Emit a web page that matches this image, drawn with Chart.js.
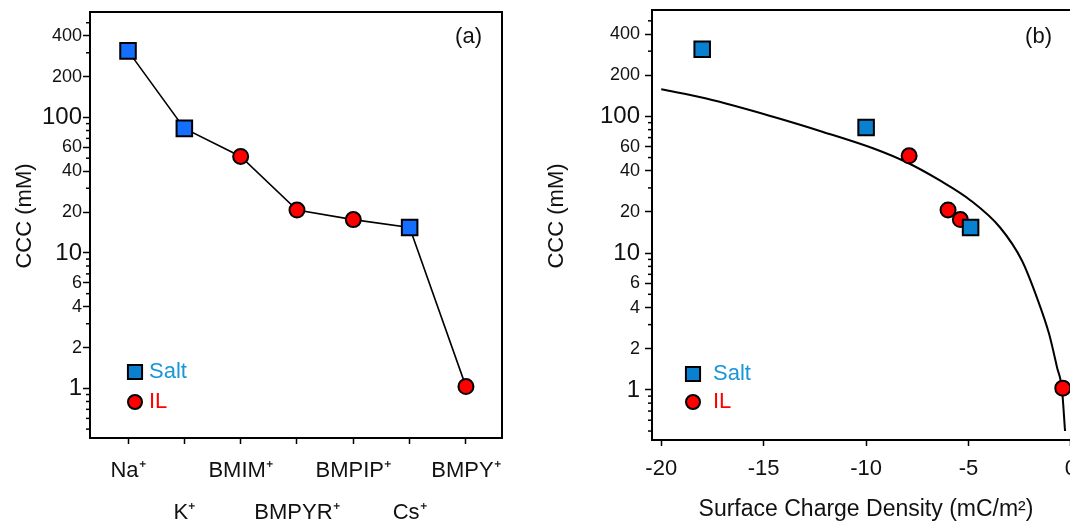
<!DOCTYPE html>
<html>
<head>
<meta charset="utf-8">
<script src="https://cdn.jsdelivr.net/npm/chart.js@4.4.1/dist/chart.umd.min.js"></script>
<style>
  html, body { margin: 0; padding: 0; background: #fff; overflow: hidden; width: 1070px; height: 523px; }
  #boxA { position: absolute; left: 0; top: 0; }
  #boxB { position: absolute; left: 540px; top: 0; }
</style>
</head>
<body>
<div id="boxA"><canvas id="chartA" width="540" height="523"></canvas></div>
<div id="boxB"><canvas id="chartB" width="560" height="523"></canvas></div>
<script>
const FONT = "'Liberation Sans', Arial, sans-serif";

// Same seven cations in both panels
const cations = ['Na⁺', 'K⁺', 'BMIM⁺', 'BMPYR⁺', 'BMPIP⁺', 'Cs⁺', 'BMPY⁺'];
const cationKind = ['Salt', 'Salt', 'IL', 'IL', 'IL', 'Salt', 'IL'];
const ccc = [310, 83, 51.5, 20.7, 17.6, 15.4, 1.03];       // mM
const sigma = [-18, -10, -7.9, -6.0, -5.4, -4.9, -0.4];    // mC/m2

// Fitted curve in panel (b)
const fitSigma = [-20, -17.8, -14.5, -12.1, -9.6, -8.0, -6.4, -4.9, -3.46, -2.39, -1.61, -1.07, -0.68, -0.44, -0.29];
const fitCCC = [158, 135, 99, 77, 58, 46, 34, 24.3, 15.4, 8.8, 4.5, 2.57, 1.46, 1.01, 0.5];

// Log axis ticks
const yTicks = [0.5, 0.6, 0.7, 0.8, 0.9, 1, 2, 3, 4, 5, 6, 7, 8, 9,
  10, 20, 30, 40, 50, 60, 70, 80, 90, 100, 200, 300, 400, 500];
const yLabeled = [1, 2, 4, 6, 10, 20, 40, 60, 100, 200, 400];
const yBig = [1, 10, 100];
const sigmaTicks = [-20, -15, -10, -5, 0];

const SALT_TEXT = '#1896d8';
const IL_RED = '#ff0000';

// frame, short minor ticks, axis title, panel letter and the small legend
const decor = {
  id: 'decor',
  afterDraw(chart, args, o) {
    const ctx = chart.ctx, a = chart.chartArea, ys = chart.scales.y;
    ctx.save();
    ctx.strokeStyle = '#000';
    ctx.lineWidth = 1.5;
    yTicks.forEach(v => {
      if (yLabeled.includes(v)) return;
      const py = ys.getPixelForValue(v);
      ctx.beginPath();
      ctx.moveTo(a.left - 4, py);
      ctx.lineTo(a.left, py);
      ctx.stroke();
    });
    ctx.lineWidth = 2;
    ctx.strokeRect(a.left, a.top, a.right - a.left, a.bottom - a.top);

    ctx.fillStyle = '#111';
    ctx.font = '22px ' + FONT;
    ctx.textAlign = 'center';
    ctx.textBaseline = 'middle';
    ctx.save();
    ctx.translate(o.titleX, (a.top + a.bottom) / 2 - 9);
    ctx.rotate(-Math.PI / 2);
    ctx.fillText('CCC (mM)', 0, 0);
    ctx.restore();

    ctx.textAlign = 'right';
    ctx.fillText(o.letter, a.left + o.letterX, a.top + o.letterY);

    // legend
    const lx = a.left + o.legX;
    ctx.lineWidth = 2;
    ctx.strokeStyle = '#000';
    ctx.fillStyle = '#0a80d0';
    Chart.helpers.drawPoint(ctx, { pointStyle: 'rect', radius: 10, borderWidth: 2 }, lx, a.top + o.legY);
    ctx.fillStyle = IL_RED;
    Chart.helpers.drawPoint(ctx, { pointStyle: 'circle', radius: 7, borderWidth: 2 }, lx, a.top + o.legY + o.legGap);
    ctx.textAlign = 'left';
    ctx.fillStyle = SALT_TEXT;
    ctx.fillText('Salt', lx + o.textDx, a.top + o.legY);
    ctx.fillStyle = IL_RED;
    ctx.fillText('IL', lx + o.textDx, a.top + o.legY + o.legGap);
    ctx.restore();
  }
};

function yAxis(width, tickPad) {
  return {
    type: 'logarithmic', min: 0.43, max: 600,
    afterBuildTicks: s => { s.ticks = yTicks.map(v => ({ value: v })); },
    afterFit: s => { s.width = width; s.paddingTop = 0; s.paddingBottom = 0; },
    ticks: {
      autoSkip: false, padding: tickPad, color: '#111',
      callback: v => yLabeled.includes(v) ? String(v) : '',
      font: c => ({ family: FONT, size: yBig.includes(c.tick && c.tick.value) ? 24 : 18, lineHeight: 1 })
    },
    grid: {
      drawOnChartArea: false, tickLength: 7, tickWidth: 1.5,
      tickColor: c => (c.tick && yLabeled.includes(c.tick.value)) ? '#000' : 'rgba(0,0,0,0)'
    },
    border: { display: false }
  };
}

const pick = kind => ccc.map((v, i) => i).filter(i => cationKind[i] === kind);

// Panel (a)
new Chart(document.getElementById('chartA'), {
  type: 'scatter',
  data: {
    datasets: [
      {
        data: pick('Salt').map(i => ({ x: i, y: ccc[i] })),
        pointStyle: 'rect', pointRadius: 11, backgroundColor: '#146eff',
        borderColor: '#000', borderWidth: 2, order: 0
      },
      {
        data: pick('IL').map(i => ({ x: i, y: ccc[i] })),
        pointStyle: 'circle', pointRadius: 7.5, backgroundColor: IL_RED,
        borderColor: '#000', borderWidth: 2, order: 0
      },
      {
        data: ccc.map((v, i) => ({ x: i, y: v })),
        showLine: true, pointRadius: 0, borderColor: '#000', borderWidth: 1.6, order: 5
      }
    ]
  },
  options: {
    responsive: false, animation: false,
    layout: { autoPadding: false, padding: { top: 12, right: 38, left: 0, bottom: 0 } },
    plugins: {
      legend: { display: false }, tooltip: { enabled: false },
      decor: { letter: '(a)', letterX: 392, letterY: 25, legX: 45, legY: 360, legGap: 30, textDx: 14, titleX: 25 }
    },
    scales: {
      x: {
        type: 'linear', min: -0.675, max: 6.64,
        afterBuildTicks: s => { s.ticks = cations.map((_, i) => ({ value: i })); },
        afterFit: s => { s.height = 85; s.paddingLeft = 0; s.paddingRight = 0; },
        ticks: {
          autoSkip: false, maxRotation: 0, padding: 5, color: '#111',
          font: { family: FONT, size: 22, lineHeight: 1.95 },
          callback: v => v % 2 ? ['', cations[v]] : cations[v]
        },
        grid: { drawOnChartArea: false, tickLength: 6, tickWidth: 1.5, tickColor: '#000' },
        border: { display: false }
      },
      y: yAxis(90, 1)
    }
  },
  plugins: [decor]
});

// Panel (b)
new Chart(document.getElementById('chartB'), {
  type: 'scatter',
  data: {
    datasets: [
      {
        data: pick('Salt').map(i => ({ x: sigma[i], y: ccc[i] })),
        pointStyle: 'rect', pointRadius: 11, backgroundColor: '#0a80d0',
        borderColor: '#000', borderWidth: 2, order: 0
      },
      {
        data: pick('IL').map(i => ({ x: sigma[i], y: ccc[i] })),
        pointStyle: 'circle', pointRadius: 7.5, backgroundColor: IL_RED,
        borderColor: '#000', borderWidth: 2, order: 0
      },
      {
        data: fitSigma.map((s, i) => ({ x: s, y: fitCCC[i] })),
        showLine: true, pointRadius: 0, borderColor: '#000', borderWidth: 2,
        cubicInterpolationMode: 'monotone', order: 5
      }
    ]
  },
  options: {
    responsive: false, animation: false,
    layout: { autoPadding: false, padding: { top: 10, right: 20, left: 0, bottom: 0 } },
    plugins: {
      legend: { display: false }, tooltip: { enabled: false },
      decor: { letter: '(b)', letterX: 400, letterY: 27, legX: 41, legY: 364, legGap: 28, textDx: 20, titleX: 17 }
    },
    scales: {
      x: {
        type: 'linear', min: -20.45, max: 0.44,
        afterBuildTicks: s => { s.ticks = sigmaTicks.map(v => ({ value: v })); },
        afterFit: s => { s.height = 83; s.paddingLeft = 0; s.paddingRight = 0; },
        ticks: {
          autoSkip: false, maxRotation: 0, padding: 10, color: '#111',
          font: { family: FONT, size: 22 },
          callback: v => String(v)
        },
        grid: { drawOnChartArea: false, tickLength: 6, tickWidth: 1.5, tickColor: '#000' },
        border: { display: false },
        title: {
          display: true, text: 'Surface Charge Density (mC/m²)', color: '#111',
          font: { family: FONT, size: 23 }, padding: { top: 0, bottom: 0 }
        }
      },
      y: yAxis(112, 5)
    }
  },
  plugins: [decor]
});
</script>
</body>
</html>
